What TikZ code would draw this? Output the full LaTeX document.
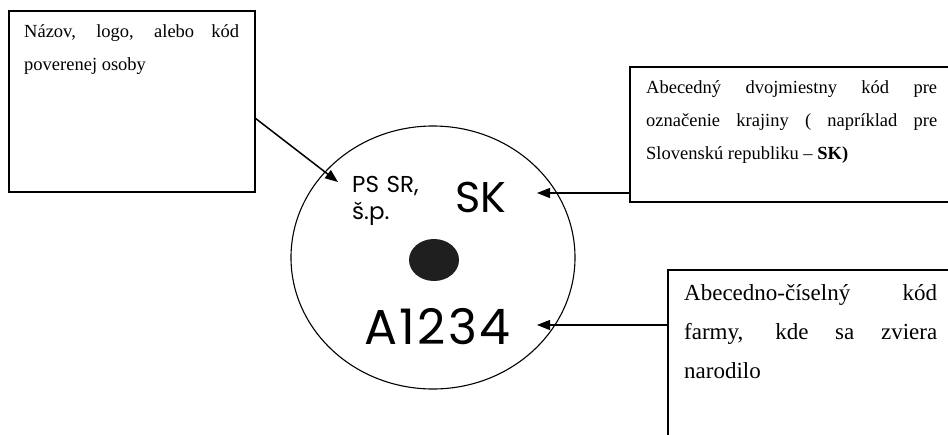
\documentclass[tikz,border=0pt]{standalone}
\usepackage{fontspec}
\setmainfont{Liberation Serif}
\newfontfamily\gothic{Poppins}
\newfontfamily\gothicwide{Poppins}[LetterSpace=5]
\usetikzlibrary{shapes.geometric,arrows.meta}
\tikzset{
  frame/.style={draw, line width=2pt, rectangle, inner sep=0pt, outer sep=0pt},
  boxtext/.style={anchor=base west, inner sep=0pt, align=justify},
  arr/.style={-{Triangle[length=13pt,width=10pt]}, line width=1.1pt},
  lbl/.style={anchor=base west, inner sep=0pt, text=black}
}
\begin{document}
\begin{tikzpicture}[x=1pt,y=-1pt]
\useasboundingbox (0,0) rectangle (948,434);
\clip (0,0) rectangle (948,434);
% boxes
\node[frame, anchor=north west, minimum width=246pt, minimum height=181pt] (box1) at (9,11) {};
\node[frame, anchor=north west, minimum width=340pt, minimum height=135pt] (box2) at (630,67) {};
\node[frame, anchor=north west, minimum width=300pt, minimum height=200pt] (box3) at (668,270) {};
% box texts
\node[boxtext, text width=215pt, font=\fontsize{18.5}{33}\selectfont] (t1txt) at (24,37)
  {Názov, logo, alebo kód\linebreak poverenej osoby};
\node[boxtext, text width=291pt, font=\fontsize{18.5}{33}\selectfont] (t2txt) at (646,93)
  {Abecedný dvojmiestny kód pre\linebreak označenie krajiny ( napríklad pre\linebreak Slovenskú republiku – \textbf{SK)}};
\node[boxtext, text width=253pt, font=\fontsize{23}{39}\selectfont] (t3txt) at (684,300)
  {Abecedno-číselný kód\linebreak farmy, kde sa zviera\linebreak narodilo};
% circle
\node[draw, ellipse, line width=1.1pt, minimum width=284pt, minimum height=263pt, inner sep=0pt] (disc) at (433,257.5) {};
\node[ellipse, fill=black!88, minimum width=50pt, minimum height=42pt, inner sep=0pt] (dot) at (434,260) {};
\node[lbl, text width=70pt, align=left, font=\gothic\fontsize{23}{27}\selectfont] (ps) at (352,192) {PS SR,\\š.p.};
\node[lbl, font=\gothic\fontsize{43}{43}\selectfont] (sk) at (455,212) {SK};
\node[lbl, font=\gothicwide\fontsize{49}{49}\selectfont] (code) at (364,344) {A1234};
% arrow targets
\coordinate (p1) at (338,182);
\coordinate (p2) at (537,193);
\coordinate (p3) at (537,325);
% connectors
\draw[arr, line width=1.5pt] ([yshift=-16.5pt]box1.east) -- (p1);
\draw[arr] ([yshift=9pt]box2.south west) -- (p2);
\draw[arr] ([yshift=-55pt]box3.north west) -- (p3);
\end{tikzpicture}
\end{document}
